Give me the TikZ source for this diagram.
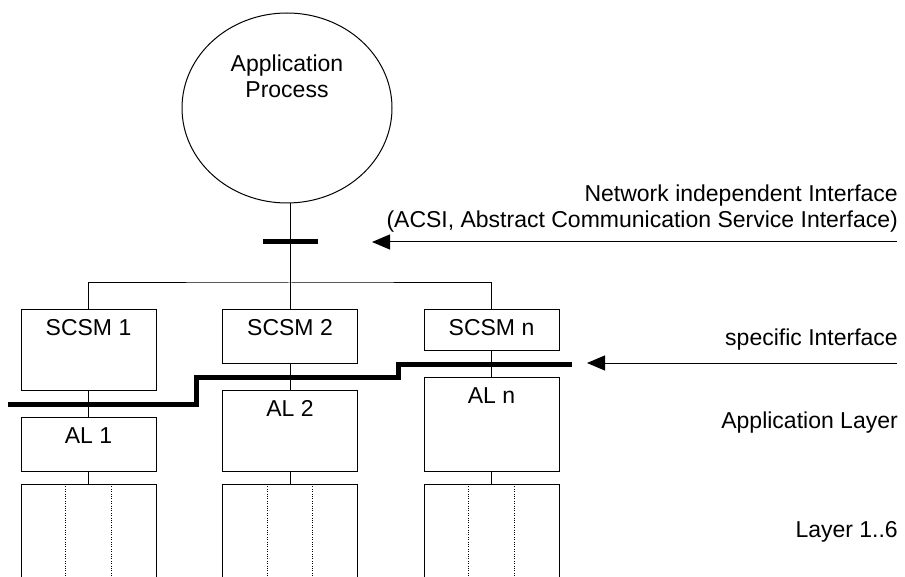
\documentclass[tikz,border=0pt]{standalone}
\usepackage{fontspec}
\setmainfont{Liberation Sans}
\usetikzlibrary{positioning,arrows.meta,shapes.geometric,calc}

\begin{document}
\begin{tikzpicture}[
          x=1pt, y=-1pt,
          every node/.style={font=\fontsize{23}{26.5}\selectfont, inner sep=0pt},
          box/.style={draw, line width=1pt, minimum width=135pt, text height=26pt, text depth=#1, anchor=north},
          lyr/.style={draw, line width=1pt, minimum width=135pt, minimum height=110pt, anchor=north},
          wire/.style={line width=1pt},
          bar/.style={line width=5pt},
          sep/.style={dash pattern=on 0.8pt off 1.6pt, line width=0.8pt},
          arr/.style={-{Triangle[length=18pt, width=15pt]}, line width=1pt},
          note/.style={anchor=base east, align=right}
      ]
        \useasboundingbox (0,0) rectangle (905,577);
        \clip (0,0) rectangle (905,577);

        % application process
        \node[draw, ellipse, line width=1pt, minimum width=210pt, minimum height=190pt] (ap) at (287,108) {};
        \node[align=center, anchor=base] (aptxt) at (287,98) {Application\\Process};

        % service mappings and application layers
        \node[box=55pt] (s1) at (88.5,309) {SCSM 1};
        \node[box=28pt] (s2) at (290,309) {SCSM 2};
        \node[box=15pt] (sn) at (491.5,309) {SCSM n};
        \node[box=28pt] (a1) at (88.5,417) {AL 1};
        \node[box=55pt] (a2) at (290,390) {AL 2};
        \node[box=68pt] (an) at (491.5,377) {AL n};
        \node[lyr] (l1) at (88.5,484) {};
        \node[lyr] (l2) at (290,484) {};
        \node[lyr] (ln) at (491.5,484) {};

        \coordinate (bus) at (290,283);
        \draw[wire] (s2.north |- ap.south) -- (s2.north);
        \draw[wire] (s1.north) |- (bus) -| (sn.north);
        \draw[bar] (263,242) -- (318,242);

        \draw[wire] (s1) -- (a1);
        \draw[wire] (s2) -- (a2);
        \draw[wire] (sn) -- (an);
        \draw[wire] (a1) -- (l1);
        \draw[wire] (a2) -- (l2);
        \draw[wire] (an) -- (ln);

        \foreach \c in {l1,l2,ln}
          \foreach \f in {0.333,0.667}
            \draw[sep] ($(\c.north west)!\f!(\c.north east)$) -- ($(\c.south west)!\f!(\c.south east)$);

        % specific interface
        \draw[bar] (8,404) -| (196,377) -| (398,364) -- (572,364);

        % labels on the right
        \node[note] (nii) at (898,228) {Network independent Interface\\(ACSI, Abstract Communication Service Interface)};
        \node[note] (spi) at (898,345) {specific Interface};
        \node[note] (apl) at (898,428) {Application Layer};
        \node[note] (l16) at (898,537) {Layer 1..6};

        \coordinate (nii-r) at (897,242);
        \coordinate (nii-l) at (372,242);
        \coordinate (spi-r) at (897,363);
        \coordinate (spi-l) at (587,363);
        \draw[arr] (nii-r) -- (nii-l);
        \draw[arr] (spi-r) -- (spi-l);
      \end{tikzpicture}
\end{document}
